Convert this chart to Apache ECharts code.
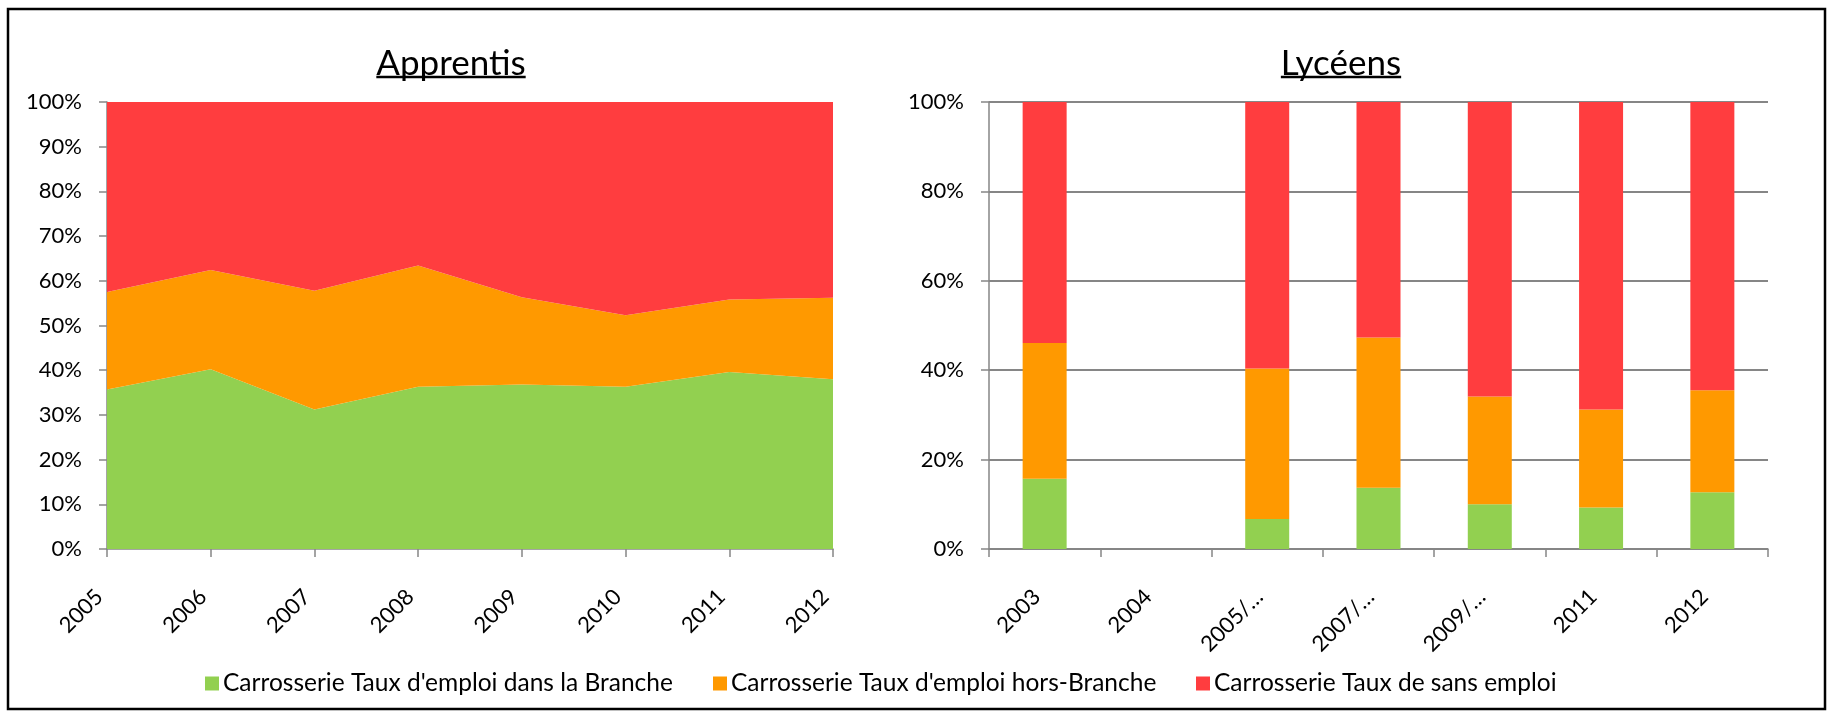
<!DOCTYPE html>
<html>
<head>
<meta charset="utf-8">
<script src="https://cdn.jsdelivr.net/npm/echarts@6/dist/echarts.min.js"></script>
<style>
  html, body { margin: 0; padding: 0; background: #fff; }
  #chart { width: 1834px; height: 717px; }
</style>
</head>
<body>
<div id="chart"></div>
<script>
// Apprentis (aires empilées, en %)
var apprYears = ['2005', '2006', '2007', '2008', '2009', '2010', '2011', '2012'];
var apprBranche = [35.7, 40.2, 31.2, 36.3, 36.8, 36.3, 39.6, 38.0];
var apprHors = [21.8, 22.2, 26.6, 27.1, 19.5, 16.0, 16.2, 18.2];
var apprSans = [42.5, 37.6, 42.2, 36.6, 43.7, 47.7, 44.2, 43.8];

// Lycéens (barres empilées, en %)
var lycYears = ['2003', '2004', '2005/…', '2007/…', '2009/…', '2011', '2012'];
var lycBranche = [15.7, null, 6.7, 13.7, 10.0, 9.3, 12.7];
var lycHors = [30.4, null, 33.7, 33.6, 24.1, 21.9, 22.8];
var lycSans = [53.9, null, 59.6, 52.7, 65.9, 68.8, 64.5];

var seriesNames = [
    'Carrosserie Taux d\'emploi dans la Branche',
    'Carrosserie Taux d\'emploi hors-Branche',
    'Carrosserie Taux de sans emploi'
];
var colors = ['#92D050', '#FF9900', '#FF3D3F'];

var font = 'Lato, "Open Sans", sans-serif';
var axisGray = '#868686';
var titleSize = 35;

var chart = echarts.init(document.getElementById('chart'));

// largeur du titre, pour le soulignement
var measure = function(text, size) {
    var ctx = document.createElement('canvas').getContext('2d');
    ctx.font = size + 'px ' + font;
    return ctx.measureText(text).width;
};
var underline = function(text, cx) {
    var w = measure(text, titleSize);
    return { type: 'line', shape: { x1: cx - w / 2, y1: 77, x2: cx + w / 2, y2: 77 },
             style: { stroke: '#000', lineWidth: 2.5 }, silent: true };
};

var yAxisBase = function(interval) {
    return {
        type: 'value',
        min: 0,
        max: 100,
        interval: interval,
        axisLine: { show: true, lineStyle: { color: axisGray, width: 1.5 } },
        axisTick: { show: true, length: 8, lineStyle: { color: axisGray, width: 1.5 } },
        axisLabel: { formatter: '{value}%', color: '#000', fontFamily: font, fontSize: 22, margin: 25 }
    };
};

var xLabel = {
    rotate: 45, color: '#000', fontFamily: font, fontSize: 22,
    margin: 52, interval: 0, verticalAlign: 'bottom'
};

// une légende par série, placée comme dans l'original
var legendAt = function(name, left) {
    return {
        left: left,
        top: 666,
        itemWidth: 14,
        itemHeight: 14,
        itemGap: 0,
        icon: 'rect',
        textStyle: { fontFamily: font, fontSize: 24.5, color: '#000', padding: [0, 0, 0, -1] },
        data: [name]
    };
};

var option = {
    animation: false,
    color: colors,
    title: [
        { text: 'Apprentis', left: 451, top: 46, padding: 0, textAlign: 'center',
          textStyle: { fontFamily: font, fontWeight: 'normal', fontSize: titleSize, color: '#000' } },
        { text: 'Lycéens', left: 1341, top: 46, padding: 0, textAlign: 'center',
          textStyle: { fontFamily: font, fontWeight: 'normal', fontSize: titleSize, color: '#000' } }
    ],
    graphic: [
        { type: 'rect', shape: { x: 8, y: 9, width: 1817, height: 700 },
          style: { fill: 'none', stroke: '#000', lineWidth: 2.5 }, silent: true },
        underline('Apprentis', 451),
        underline('Lycéens', 1341)
    ],
    legend: [
        legendAt(seriesNames[0], 200),
        legendAt(seriesNames[1], 708),
        legendAt(seriesNames[2], 1191)
    ],
    grid: [
        { left: 107, right: 1001, top: 102, bottom: 168 },
        { left: 989, right: 66, top: 102, bottom: 168 }
    ],
    xAxis: [
        {
            type: 'category', gridIndex: 0, data: apprYears, boundaryGap: false,
            axisLine: { lineStyle: { color: axisGray, width: 1.5 } },
            axisTick: { show: true, length: 8, lineStyle: { color: axisGray, width: 1.5 } },
            axisLabel: xLabel
        },
        {
            type: 'category', gridIndex: 1, data: lycYears,
            axisLine: { lineStyle: { color: axisGray, width: 1.5 } },
            axisTick: { show: true, length: 8, lineStyle: { color: axisGray, width: 1.5 } },
            axisLabel: xLabel
        }
    ],
    yAxis: [
        Object.assign(yAxisBase(10), { gridIndex: 0, splitLine: { show: false } }),
        Object.assign(yAxisBase(20), { gridIndex: 1, splitLine: { show: true, lineStyle: { color: axisGray, width: 2 } } })
    ],
    series: [
        { name: seriesNames[0], type: 'line', stack: 'a', xAxisIndex: 0, yAxisIndex: 0, data: apprBranche,
          symbol: 'none', lineStyle: { width: 0 }, areaStyle: { color: colors[0], opacity: 1 } },
        { name: seriesNames[1], type: 'line', stack: 'a', xAxisIndex: 0, yAxisIndex: 0, data: apprHors,
          symbol: 'none', lineStyle: { width: 0 }, areaStyle: { color: colors[1], opacity: 1 } },
        { name: seriesNames[2], type: 'line', stack: 'a', xAxisIndex: 0, yAxisIndex: 0, data: apprSans,
          symbol: 'none', lineStyle: { width: 0 }, areaStyle: { color: colors[2], opacity: 1 } },
        { name: seriesNames[0], type: 'bar', stack: 'l', xAxisIndex: 1, yAxisIndex: 1, data: lycBranche,
          barWidth: 44, itemStyle: { color: colors[0] } },
        { name: seriesNames[1], type: 'bar', stack: 'l', xAxisIndex: 1, yAxisIndex: 1, data: lycHors,
          barWidth: 44, itemStyle: { color: colors[1] } },
        { name: seriesNames[2], type: 'bar', stack: 'l', xAxisIndex: 1, yAxisIndex: 1, data: lycSans,
          barWidth: 44, itemStyle: { color: colors[2] } }
    ]
};

chart.setOption(option);
</script>
</body>
</html>
